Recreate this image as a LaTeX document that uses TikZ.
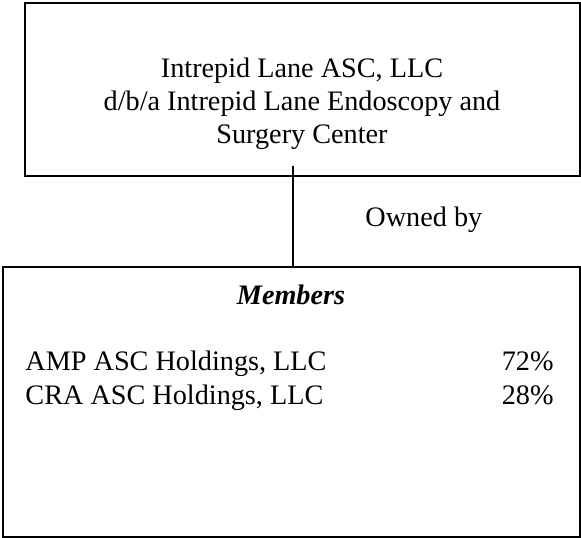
\documentclass[tikz,border=0pt]{standalone}
\usepackage{fontspec}
\setmainfont{Liberation Serif}
\usetikzlibrary{positioning}

\begin{document}
\begin{tikzpicture}[x=0.45pt,y=-0.45pt,
    orgbox/.style={draw,line width=0.9pt,inner sep=0pt},
    txt/.style={font=\fontsize{12.7}{14.9}\selectfont,inner sep=0pt}]
  \useasboundingbox (0,0) rectangle (581,538);
  % the two boxes
  \node[orgbox,minimum width=249.75pt,minimum height=77.85pt] (center) at (302.5,89.5) {};
  \node[orgbox,minimum width=259.65pt,minimum height=121.5pt] (owners) at (291.5,402) {};
  \node[txt,align=center] (centerName) at (302,104)
    {Intrepid Lane ASC, LLC\\d/b/a Intrepid Lane Endoscopy and\\Surgery Center};
  % members
  \node[txt,font=\fontsize{12.7}{14.9}\selectfont\bfseries\itshape,anchor=base] (membersHead) at (291,305) {Members};
  \node[txt,anchor=base west] (amp) at (25,371) {AMP ASC Holdings, LLC};
  \node[txt,anchor=base west] (cra) at (25,405) {CRA ASC Holdings, LLC};
  \node[txt,anchor=base east] (ampShare) at (554,371) {72\%};
  \node[txt,anchor=base east] (craShare) at (554,405) {28\%};
  % link
  \coordinate (linkTop) at (293,166);
  \draw[line width=0.9pt] (linkTop) -- (linkTop |- owners.north);
  \node[txt,anchor=base west] (ownedBy) at (365,227) {Owned by};
\end{tikzpicture}
\end{document}
